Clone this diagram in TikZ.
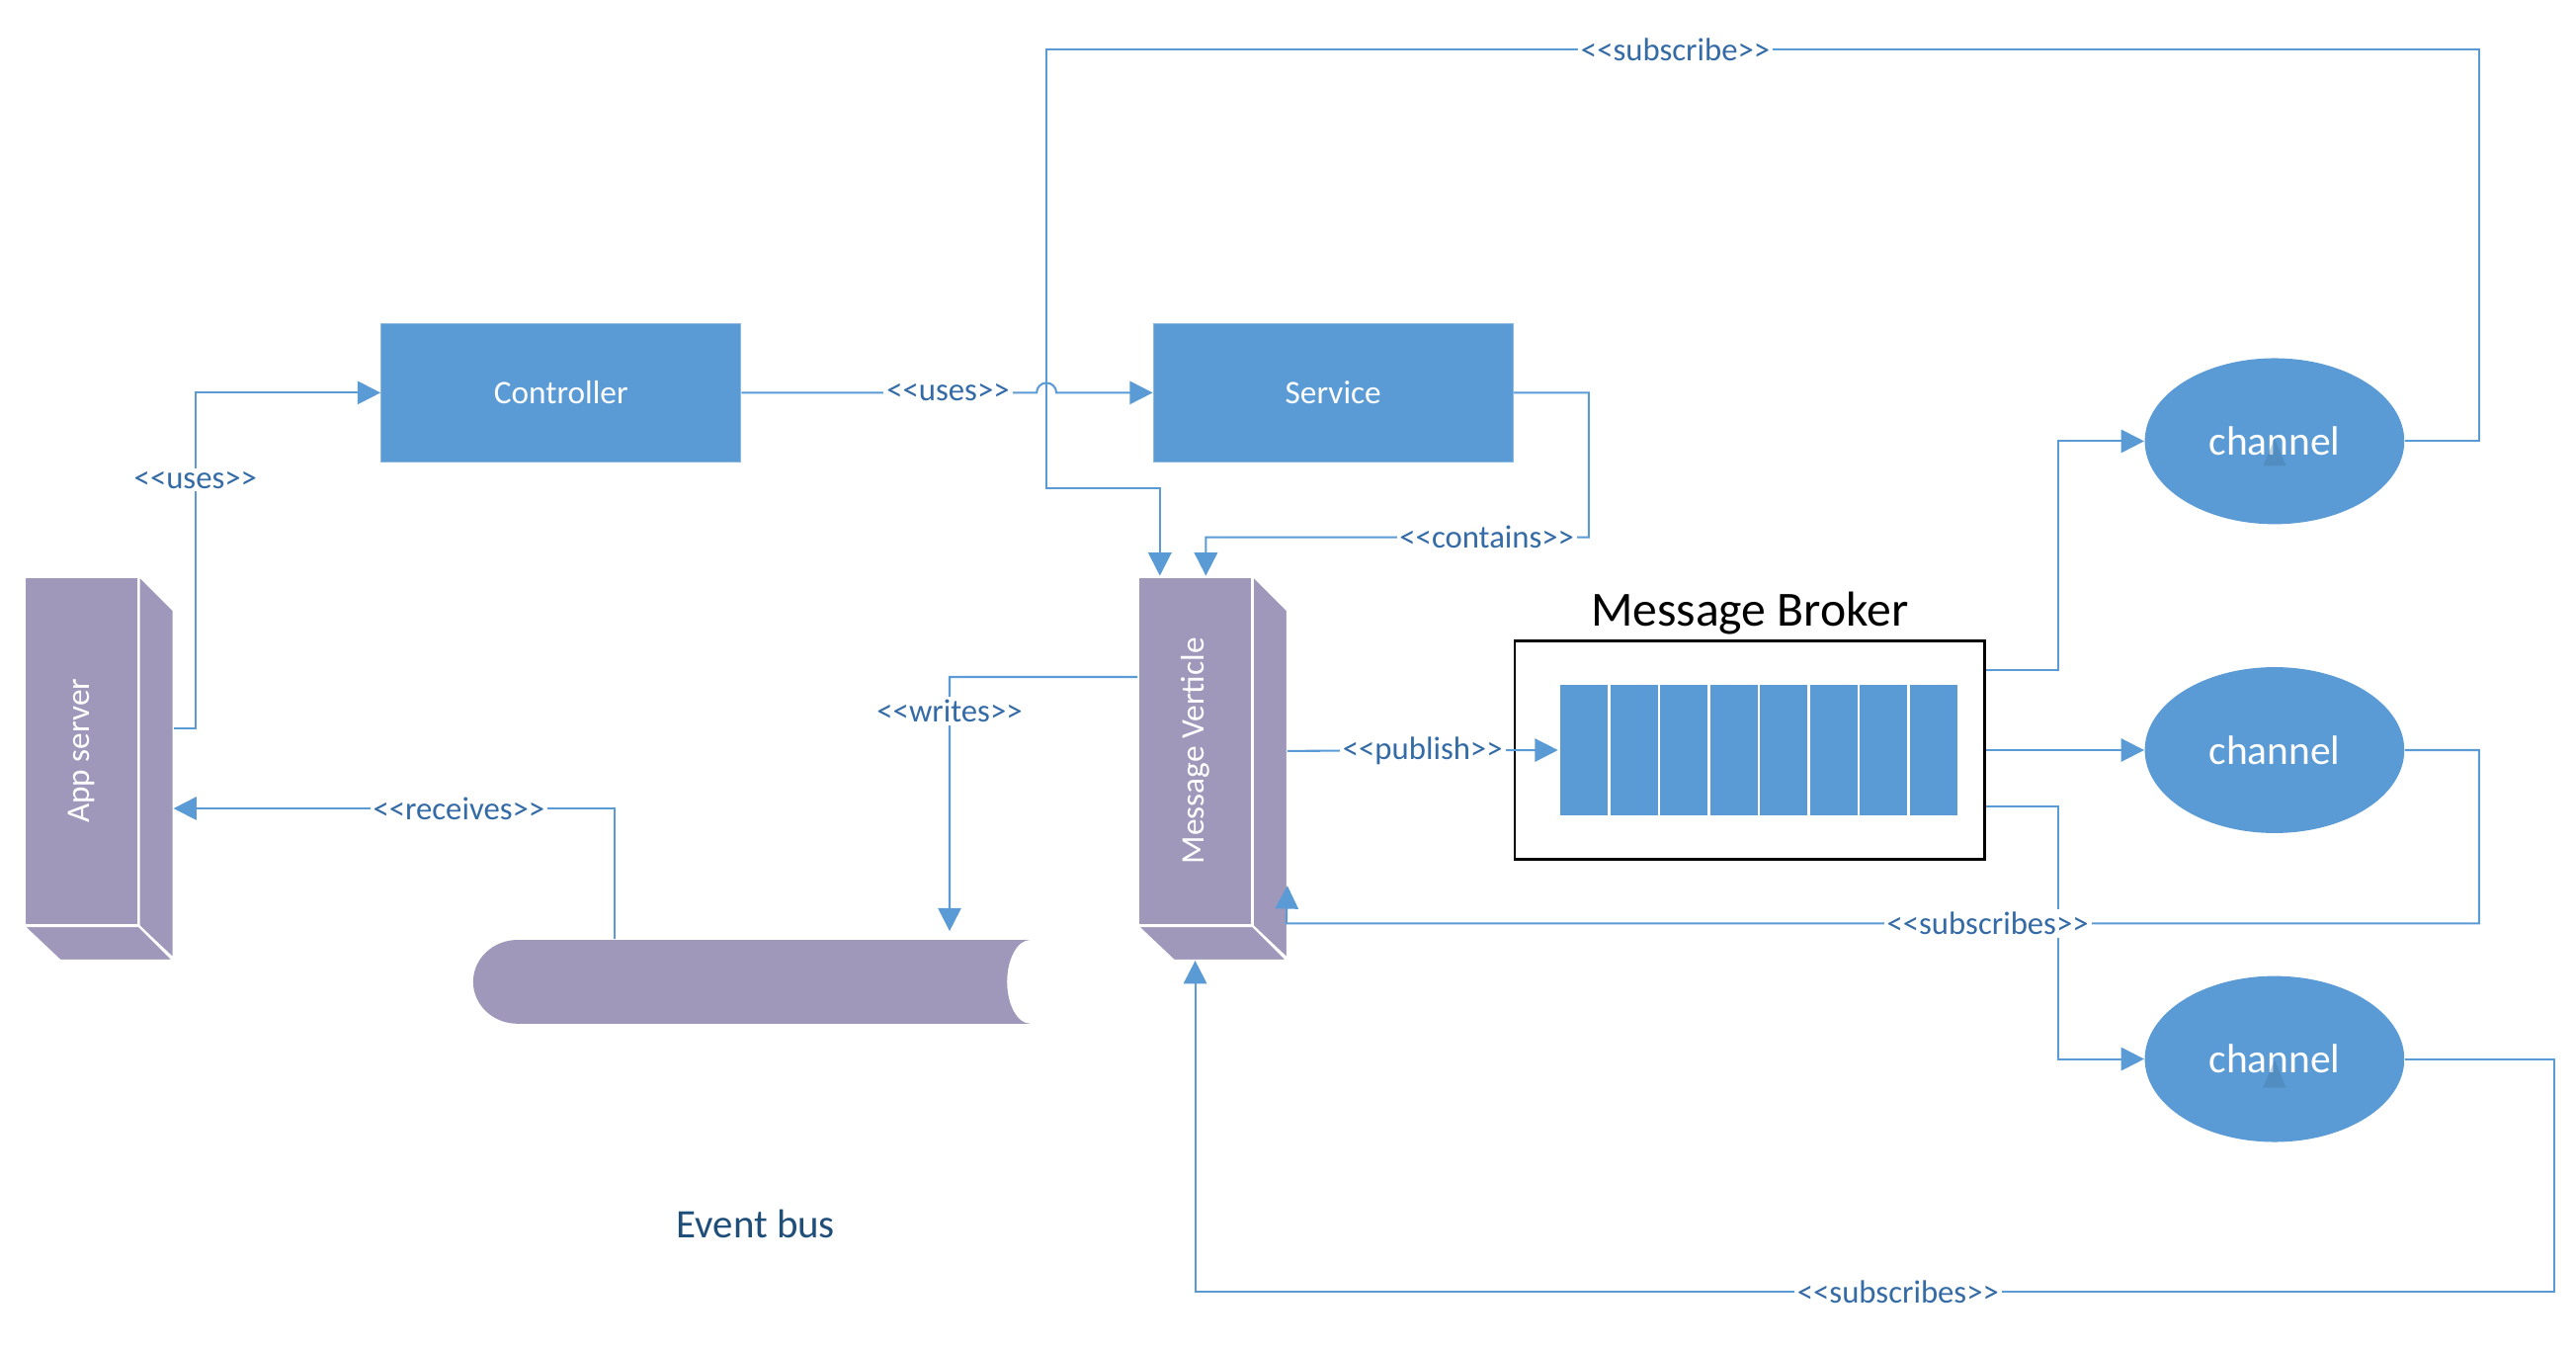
\documentclass[tikz,border=0pt]{standalone}
\usepackage{fontspec}
\newfontfamily\cf{Carlito}
\usetikzlibrary{arrows.meta,calc,shapes.geometric}
\definecolor{boxblue}{RGB}{91,155,213}
\definecolor{purp}{RGB}{159,152,187}
\definecolor{lblblue}{RGB}{52,107,166}
\definecolor{busblue}{RGB}{31,78,121}
\newcommand\lgl{<\kern0pt<}
\newcommand\rgl{>\kern0pt>}
\begin{document}
\begin{tikzpicture}[x=0.02cm,y=-0.02cm,
  bluebox/.style={fill=boxblue, draw=boxblue!70!white, line width=0.4pt, text=white,
    font=\cf\fontsize{11.4}{13}\selectfont, minimum width=4.38cm, minimum height=1.68cm, inner sep=0pt},
  face/.style={fill=purp, draw=white, line width=0.7pt},
  facenode/.style={face, minimum width=1.38cm, minimum height=4.24cm, inner sep=0pt},
  facetext/.style={rotate=90, text=white, font=\cf\fontsize{11.4}{13}\selectfont, inner sep=0pt},
  chan/.style={ellipse, fill=boxblue, text=white, font=\cf\fontsize{14.2}{16}\selectfont,
    minimum width=3.16cm, minimum height=2.02cm, inner sep=0pt},
  conn/.style={draw=boxblue, line width=0.7pt},
  arr/.style={conn, -{Triangle[length=8pt,width=8pt]}},
  lbl/.style={fill=white, text=lblblue, font=\cf\fontsize{11.2}{13}\selectfont, inner sep=1pt},
  cell/.style={fill=boxblue, draw=white, line width=0.8pt, minimum width=0.6075cm, minimum height=1.62cm, inner sep=0pt},
  stray/.style={fill=boxblue!75!black, opacity=0.35}
]
\useasboundingbox (0,0) rectangle (1568,821);

% boxes
\node[bluebox] (ctrl) at (341.5,239) {Controller};
\node[bluebox] (srv) at (811.5,239) {Service};

% App server block
\node[facenode] (app) at (49.5,457) {};
\draw[face] (app.north east) -- ++(21,21) -- ++(0,212) -- (app.south east) -- cycle;
\draw[face] (app.south west) -- (app.south east) -- ++(21,21) -- ++(-69,0) -- cycle;
\node[facetext] (apptxt) at (app) {App server};

% Message Verticle block
\node[facenode] (mv) at (727.5,457) {};
\draw[face] (mv.north east) -- ++(21,21) -- ++(0,212) -- (mv.south east) -- cycle;
\draw[face] (mv.south west) -- (mv.south east) -- ++(21,21) -- ++(-69,0) -- cycle;
\node[facetext] (mvtxt) at (mv) {Message Verticle};

% Event bus
\node[minimum width=6.78cm, minimum height=1.02cm, inner sep=0pt] (bus) at (457.5,597.5) {};
\fill[purp] (315,572) -- (627,572) arc[start angle=90,end angle=270,x radius=0.28cm,y radius=0.51cm]
  -- (315,623) arc[start angle=270,end angle=90,x radius=0.54cm,y radius=0.51cm] -- cycle;
\node[text=busblue, font=\cf\fontsize{14}{16}\selectfont] (buslbl) at (460,745) {Event bus};

% Message broker
\node[draw=black, line width=0.9pt, minimum width=5.72cm, minimum height=2.66cm, inner sep=0pt] (broker) at (1065,456.5) {};
\node[font=\cf\fontsize{17}{20}\selectfont] (brokertitle) at (1065,373) {Message Broker};
\foreach \i in {0,...,7} \node[cell] (cell\i) at ({949+30.375*(\i+0.5)},456.5) {};

% channels
\node[chan] (ch1) at (1384.5,268.5) {channel};
\node[chan] (ch2) at (1384.5,456.5) {channel};
\node[chan] (ch3) at (1384.5,644.5) {channel};
\fill[stray] (1384.5,267) -- (1391.5,283.5) -- (1377.5,283.5) -- cycle;
\fill[stray] (1384.5,645) -- (1391.5,662) -- (1377.5,662) -- cycle;

% connectors
\draw[arr] ($(app.east)+(21,-14)$) -- (119,443) -- node[lbl,pos=0.74]{\lgl uses\rgl} (119,239) -- (ctrl.west);
\draw[arr] (ch1.east) -- (1509,268.5) -- (1509,30) -- node[lbl,pos=0.561]{\lgl subscribe\rgl} (637,30)
  -- (637,297) -- (706,297) -- ($(mv.north)+(-21.5,0)$);
\draw[arr] (ctrl.east) -- node[lbl,pos=0.7]{\lgl uses\rgl} (631,239) arc[start angle=180,end angle=0,radius=0.12cm] -- (srv.west);
\draw[arr] (srv.east) -- (967,239) -- (967,327) -- node[lbl,pos=0.266]{\lgl contains\rgl} (734,327) -- ($(mv.north)+(6.5,0)$);
\draw[arr] ($(mv.west)+(0,-45)$) -- (578,412) -- node[lbl,pos=0.135]{\lgl writes\rgl} ($(bus.north)+(120.5,-5)$);
\draw[arr] ($(bus.north)+(-83.5,0)$) -- (374,492) -- node[lbl,pos=0.353]{\lgl receives\rgl} ($(app.east)+(21,35)$);
\draw[arr] ($(mv.east)+(21,0)$) -- node[lbl]{\lgl publish\rgl} (cell0.west);
\draw[arr] ($(broker.east)+(0,-49)$) -- (1253,407.5) -- (1253,268.5) -- (ch1.west);
\draw[arr] (broker.east) -- (ch2.west);
\draw[arr] ($(broker.east)+(0,34)$) -- (1253,490.5) -- (1253,644.5) -- (ch3.west);
\draw[arr] (ch2.east) -- (1509,456.5) -- (1509,562) -- node[lbl,pos=0.412]{\lgl subscribes\rgl} (783,562) -- ($(mv.east)+(21,82)$);
\draw[arr] (ch3.east) -- (1555,644.5) -- (1555,786) -- node[lbl,pos=0.483]{\lgl subscribes\rgl} (727.5,786) -- ($(mv.south)+(0,21)$);
\end{tikzpicture}
\end{document}
